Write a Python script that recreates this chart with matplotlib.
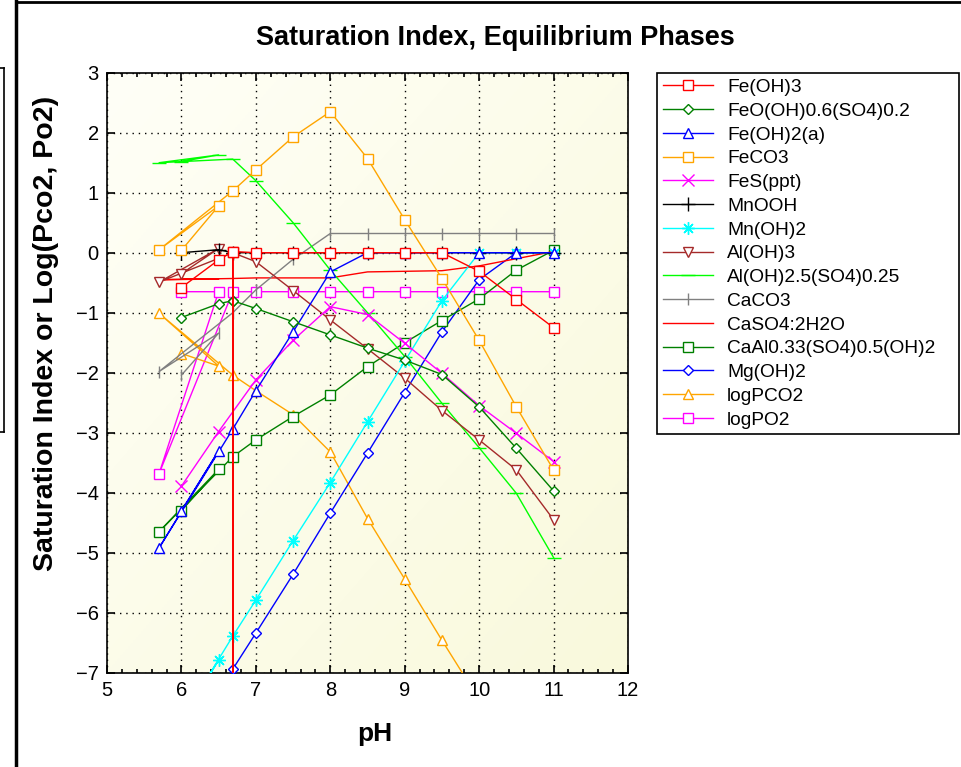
import numpy as np
import matplotlib
matplotlib.use("Agg")
import matplotlib.pyplot as plt
from matplotlib.lines import Line2D
from matplotlib.ticker import MultipleLocator
from matplotlib.colors import LinearSegmentedColormap

plt.rcParams['font.family'] = ['Liberation Sans', 'DejaVu Sans']

# simulation rows (pH). -999 = phase not present, nan = not written for that row
ph = np.array([6.0, 6.5, 5.7, 6.69, 6.69, 6.69, 7.0, 7.5, 8.0, 8.5, 9.0, 9.5, 10.0, 10.5, 11.0])
nan = np.nan

fe_oh3 = [-0.58, -0.12, nan, 0.02, -999, 0.02, 0.0, 0.0, 0.0, 0.0, 0.0, 0.0, -0.31, -0.78, -1.25]
feooh_so4 = [-1.08, -0.85, nan, -0.80, -999, -0.80, -0.93, -1.15, -1.37, -1.59, -1.79, -2.03, -2.57, -3.26, -3.97]
fe_oh2 = [-4.30, -3.30, -4.92, -2.94, nan, nan, -2.30, -1.32, -0.32, 0.0, 0.0, 0.0, 0.0, 0.0, 0.0]
feco3 = [0.04, 0.78, 0.05, 1.03, nan, nan, 1.38, 1.93, 2.35, 1.57, 0.55, -0.43, -1.46, -2.57, -3.62]
fes = [-3.89, -2.98, nan, nan, nan, nan, -2.12, -1.46, -0.90, -1.03, -1.51, -2.01, -2.55, -3.01, -3.48]
mnooh = [0.0, 0.05, nan, 0.0, nan, nan, 0.0, 0.0, 0.0, 0.0, 0.0, 0.0, 0.0, 0.0, 0.0]
mn_oh2 = [-7.80, -6.79, -8.40, -6.39, nan, nan, -5.79, -4.80, -3.83, -2.82, -1.81, -0.80, 0.0, 0.0, 0.0]
al_oh3 = [-0.35, 0.07, -0.49, 0.0, nan, nan, -0.15, -0.63, -1.12, -1.60, -2.09, -2.63, -3.12, -3.62, -4.45]
al_oh_so4 = [1.52, 1.63, 1.50, 1.56, nan, nan, 1.20, 0.50, -0.29, -1.00, -1.73, -2.51, -3.25, -4.01, -5.08]
caco3 = [-2.04, -1.34, -1.98, -1.00, nan, nan, -0.62, -0.11, 0.32, 0.32, 0.32, 0.32, 0.32, 0.32, 0.32]
gypsum = [-0.44, -0.44, -0.45, -0.43, -999, -0.43, -0.42, -0.42, -0.42, -0.32, -0.31, -0.30, -0.22, -0.10, 0.02]
caal = [-4.30, -3.61, -4.65, -3.40, nan, nan, -3.12, -2.73, -2.37, -1.90, -1.50, -1.13, -0.77, -0.29, 0.04]
mg_oh2 = [-8.35, -7.35, -8.95, -6.94, nan, nan, -6.34, -5.36, -4.34, -3.34, -2.33, -1.32, -0.45, 0.0, 0.0]
log_pco2 = [-1.68, -1.89, -1.01, -2.04, nan, nan, -2.30, -2.70, -3.32, -4.43, -5.44, -6.46, -7.45, -8.45, -9.45]
log_po2 = [-0.65, -0.65, -3.68, -0.65, nan, nan, -0.65, -0.65, -0.65, -0.65, -0.65, -0.65, -0.65, -0.65, -0.65]

names = ["Fe(OH)3", "FeO(OH)0.6(SO4)0.2", "Fe(OH)2(a)", "FeCO3", "FeS(ppt)", "MnOOH",
         "Mn(OH)2", "Al(OH)3", "Al(OH)2.5(SO4)0.25", "CaCO3", "CaSO4:2H2O",
         "CaAl0.33(SO4)0.5(OH)2", "Mg(OH)2", "logPCO2", "logPO2"]
values = [fe_oh3, feooh_so4, fe_oh2, feco3, fes, mnooh, mn_oh2, al_oh3, al_oh_so4,
          caco3, gypsum, caal, mg_oh2, log_pco2, log_po2]
colors = ["#ff0000", "#008000", "#0000ff", "#ffa500", "#ff00ff", "#000000", "#00ffff",
          "#a52a2a", "#00ff00", "#808080", "#ff0000", "#008000", "#0000ff", "#ffa500", "#ff00ff"]
markers = ["s", "D", "^", "s", "x", "+", (8, 2, 0), "v", "_", "|", "_", "s", "D", "^", "s"]
sizes = [7.5, 5.5, 7.5, 7.5, 8, 10, 9, 7.5, 10, 9, 0, 7.5, 5.5, 7.5, 7.5]

fig = plt.figure(figsize=(9.61, 7.67), dpi=100)
ax = fig.add_axes([107 / 961, 1 - 672.7 / 767, 521 / 961, 600 / 767])

# background gradient like the original chart fill
xx, yy = np.meshgrid(np.linspace(0, 1, 200), np.linspace(0, 1, 200))
bg = LinearSegmentedColormap.from_list("bg", ["#fffff7", "#f9f9dc"])
ax.imshow((xx + yy) / 2, extent=(0, 1, 0, 1), transform=ax.transAxes, cmap=bg,
          aspect="auto", origin="upper", zorder=-5)

# first series drawn on top
for i, (name, y) in enumerate(zip(names, values)):
    y = np.array(y, dtype=float)
    ok = ~np.isnan(y)
    ax.plot(ph[ok], y[ok], color=colors[i], lw=1.0, marker=markers[i], ms=sizes[i],
            mfc="white", mec=colors[i], mew=1.0, label=name, zorder=100 - i)

ax.set_xlim(5, 12)
ax.set_ylim(-7, 3)
ax.set_xticks(range(5, 13))
ax.set_yticks(range(-7, 4))
ax.xaxis.set_minor_locator(MultipleLocator(0.2))
ax.tick_params(which="both", direction="in", top=True, right=True, labelsize=14.5, width=1.2)
ax.tick_params(which="major", length=6, pad=6)
ax.tick_params(which="minor", length=3)
ax.grid(True, which="major", color="black", linestyle=(0, (1, 3.5)), lw=1.0)
for s in ax.spines.values():
    s.set_linewidth(1.2)

ax.set_xlabel("pH", fontsize=19, fontweight="bold")
ax.xaxis.set_label_coords(0.514, -0.082)
ax.xaxis.label.set_va("top")
ax.set_ylabel("Saturation Index or Log(Pco2, Po2)", fontsize=20.5, fontweight="bold")
ax.yaxis.set_label_coords(-0.117, 0.566)
ax.yaxis.label.set_va("center")
fig.text(495 / 961, 1 - 38 / 767, "Saturation Index, Equilibrium Phases",
         ha="center", va="center", fontsize=19.5, fontweight="bold")

leg = ax.legend(loc="upper left", mode="expand",
                bbox_to_anchor=(657 / 961, 1 - 433 / 767, 302 / 961, 360 / 767),
                bbox_transform=fig.transFigure, fontsize=13.8, frameon=True, fancybox=False,
                edgecolor="black", framealpha=1, borderaxespad=0, borderpad=0.3,
                handlelength=2.6, handletextpad=0.75, labelspacing=0.33)
leg.get_frame().set_linewidth(1.2)

# window border left over from the screenshot
for xs, ys, lw in [([15.5, 15.5], [0, 767], 2.5), ([15.5, 961], [2, 2], 2),
                   ([3.5, 3.5], [68, 432], 1.2), ([0, 3.5], [68, 68], 1.2), ([0, 3.5], [432, 432], 1.2)]:
    fig.add_artist(Line2D([x / 961 for x in xs], [1 - v / 767 for v in ys],
                          transform=fig.transFigure, color="black", lw=lw))

fig.savefig("out.png", dpi=100)
